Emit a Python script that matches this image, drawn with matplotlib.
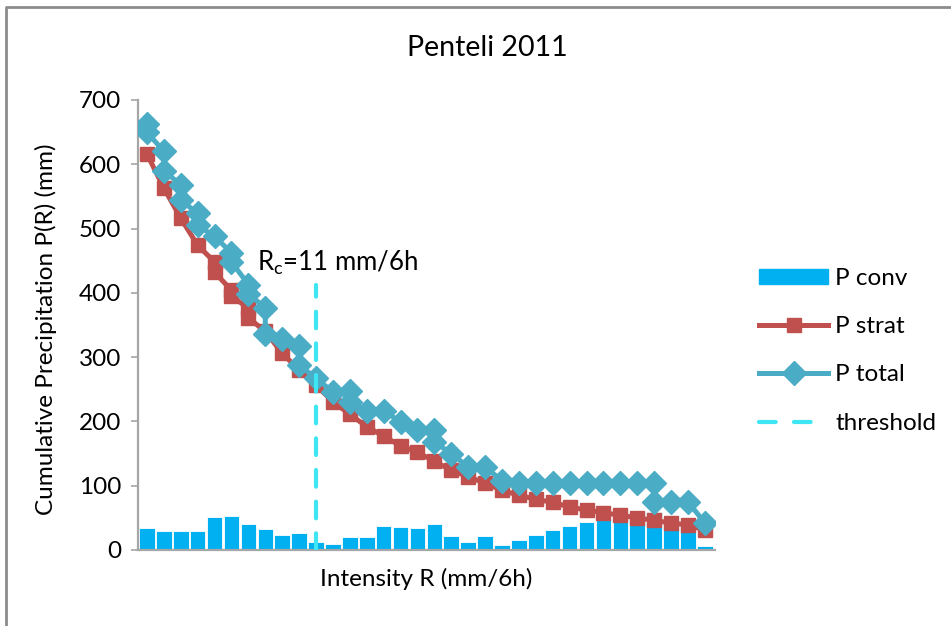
import numpy as np
import matplotlib
matplotlib.use("Agg")
import matplotlib.pyplot as plt
from matplotlib.lines import Line2D
from matplotlib.patches import Patch

plt.rcParams['font.family'] = ['Lato', 'DejaVu Sans']

# intensity classes (mm/6h) and convective part per class
intensity = list(range(1, 35))
p_conv = [34, 29.5, 29.5, 29.5, 51, 53, 40, 32, 24, 27,
          12, 10, 20, 20, 38, 36, 34, 40, 22, 12,
          22, 8, 16, 24, 31, 38, 43, 47, 52, 56,
          59, 34, 36, 6]

# stratiform curve (a few classes carry two points)
strat_x = [1, 2, 3, 4, 5, 5, 6, 6, 7, 7, 8, 9, 10, 11, 12, 13, 14, 15, 16, 17,
           18, 19, 20, 21, 22, 23, 24, 25, 26, 27, 28, 29, 30, 31, 32, 33, 34]
strat_y = [616, 563, 516, 474, 448, 432, 404, 395, 376, 361, 340, 306, 280, 256,
           231, 211, 192, 177, 162, 152, 138, 124, 114, 104, 93, 85, 79, 74,
           67, 62, 58, 54, 50, 46, 42, 39, 31]

# total curve
total_x = [1, 1, 2, 2, 3, 3, 4, 4, 5, 6, 6, 7, 7, 8, 8, 9, 10, 10, 11, 12,
           13, 13, 14, 15, 16, 17, 18, 18, 19, 20, 21, 22, 23, 24, 25, 26,
           27, 28, 29, 30, 31, 31, 32, 33, 34]
total_y = [662, 650, 620, 590, 568, 544, 524, 505, 488, 462, 448, 413, 398,
           377, 336, 328, 318, 288, 267, 246, 248, 230, 217, 217, 199, 186,
           186, 168, 150, 129, 129, 108, 105, 105, 105, 105, 105, 105, 105,
           105, 105, 75, 75, 75, 42]

threshold = 11
yticks = [0, 100, 200, 300, 400, 500, 600, 700]

c_conv = '#00b0f0'
c_strat = '#c0504d'
c_total = '#4bacc6'
c_thr = '#3de6f2'
fs = 17.5
lw = 3.6
thr_dash = (4.0, 3.6)

fig = plt.figure(figsize=(9.51, 6.26), dpi=100)
ax = fig.add_axes([138 / 951, 1 - 550 / 626, 577 / 951, 450 / 626])

ax.bar(intensity, p_conv, width=0.92, color=c_conv, edgecolor='white',
       linewidth=0.6, zorder=2)
ax.plot(strat_x, strat_y, color=c_strat, lw=lw, marker='s', ms=10,
        mec=c_strat, zorder=3)
ax.plot(total_x, total_y, color=c_total, lw=lw, marker='D', ms=12,
        mec=c_total, zorder=4)
ax.plot([threshold, threshold], [0, 412], color=c_thr, lw=3.0,
        dashes=thr_dash, dash_capstyle='round', zorder=5)

ax.text(threshold - 3.5, 447, r'R$_\mathregular{c}$=11 mm/6h', fontsize=18.5,
        va='center', ha='left')

ax.set_xlim(0.47, 34.6)
ax.set_ylim(0, 700)
ax.set_xticks([])
ax.set_yticks(yticks)
ax.tick_params(axis='y', labelsize=fs, length=5, width=1.2, color='#a6a6a6',
               pad=7)
for s in ['top', 'right']:
    ax.spines[s].set_visible(False)
for s in ['left', 'bottom']:
    ax.spines[s].set_color('#a6a6a6')
    ax.spines[s].set_linewidth(1.6)

ax.set_xlabel('Intensity R (mm/6h)', fontsize=fs)
ax.xaxis.set_label_coords(0.5, -0.04)
ax.set_ylabel('Cumulative Precipitation P(R) (mm)', fontsize=fs)
ax.yaxis.set_label_coords(-0.14, 0.49)

fig.text(487 / 951, 1 - 48 / 626, 'Penteli 2011', fontsize=20.5, ha='center',
         va='center')

handles = [Patch(color=c_conv),
           Line2D([], [], color=c_strat, lw=lw, marker='s', ms=10),
           Line2D([], [], color=c_total, lw=lw, marker='D', ms=12),
           Line2D([], [], color=c_thr, lw=3.0, dashes=(4.0, 4.4),
                  dash_capstyle='round')]
labels = ['P conv', 'P strat', 'P total', 'threshold']
fig.legend(handles, labels, loc='upper left',
           bbox_to_anchor=(737 / 951, 1 - 246 / 626), frameon=False,
           fontsize=fs, handlelength=2.85, handletextpad=0.3,
           labelspacing=1.12, handleheight=0.55)

# outer chart border
fig.add_artist(plt.Line2D([6 / 951, 6 / 951, 1], [0, 1 - 7 / 626, 1 - 7 / 626],
                          color='#8c8c8c', lw=2, transform=fig.transFigure))

fig.savefig('out.png', dpi=100)
